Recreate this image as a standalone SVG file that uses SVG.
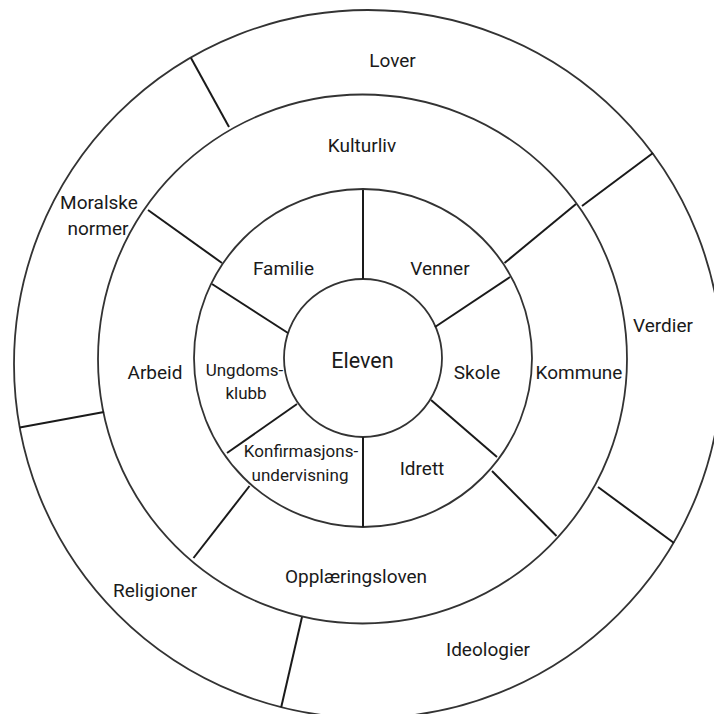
<svg xmlns="http://www.w3.org/2000/svg" width="714" height="714" viewBox="0 0 714 714">
<style>
.ring{fill:none;stroke:#333;stroke-width:1.8}
.div{stroke:#1a1a1a;stroke-width:2;fill:none}
text{font-family:Roboto,"Liberation Sans",sans-serif;fill:#1a1a1a;text-anchor:middle}
.t{font-size:19px}
.s{font-size:17px}
.c{font-size:21.5px}
</style>
<rect width="714" height="714" fill="#fff"/>
<g id="rings">
<circle class="ring" cx="368" cy="364" r="354"/>
<circle class="ring" cx="362.5" cy="359" r="264.5"/>
<circle class="ring" cx="363" cy="358" r="169"/>
<circle class="ring" cx="363" cy="358" r="79"/>
</g>
<g id="connectors">
<line class="div" x1="363" y1="279" x2="363" y2="190"/>
<line class="div" x1="363" y1="437" x2="363" y2="527"/>
<line class="div" x1="288" y1="333" x2="212" y2="284"/>
<line class="div" x1="435" y1="327" x2="510" y2="277"/>
<line class="div" x1="297" y1="404" x2="227" y2="453"/>
<line class="div" x1="431" y1="400" x2="497" y2="457"/>
<line class="div" x1="148" y1="210" x2="222" y2="263"/>
<line class="div" x1="576" y1="204" x2="504.5" y2="263"/>
<line class="div" x1="249.5" y1="486" x2="193.5" y2="558"/>
<line class="div" x1="492" y1="471" x2="556.5" y2="536"/>
<line class="div" x1="191" y1="58" x2="229" y2="127"/>
<line class="div" x1="653" y1="153" x2="582" y2="206"/>
<line class="div" x1="19.7" y1="427.5" x2="104" y2="412"/>
<line class="div" x1="598" y1="487" x2="674" y2="543"/>
<line class="div" x1="302" y1="617" x2="281.2" y2="707.3"/>
</g>
<g id="eleven"><text class="c" x="362.5" y="367.5">Eleven</text></g>
<g id="familie"><text class="t" x="283.5" y="275">Familie</text></g>
<g id="venner"><text class="t" x="440" y="275">Venner</text></g>
<g id="skole"><text class="t" x="477" y="379">Skole</text></g>
<g id="idrett"><text class="t" x="422" y="475">Idrett</text></g>
<g id="konfirmasjon"><text class="s" x="301" y="456.5">Konfirmasjons-</text><text class="s" x="300" y="481">undervisning</text></g>
<g id="ungdomsklubb"><text class="s" x="244.5" y="375.5">Ungdoms-</text><text class="s" x="246" y="399">klubb</text></g>
<g id="kulturliv"><text class="t" x="362" y="151.5">Kulturliv</text></g>
<g id="kommune"><text class="t" x="579" y="379">Kommune</text></g>
<g id="opplaeringsloven"><text class="t" x="356" y="583">Opplæringsloven</text></g>
<g id="arbeid"><text class="t" x="155" y="379">Arbeid</text></g>
<g id="lover"><text class="t" x="392.5" y="67">Lover</text></g>
<g id="verdier"><text class="t" x="663" y="331.5">Verdier</text></g>
<g id="ideologier"><text class="t" x="488" y="655.5">Ideologier</text></g>
<g id="religioner"><text class="t" x="155" y="596.5">Religioner</text></g>
<g id="moralske-normer"><text class="t" x="99" y="208.5">Moralske</text><text class="t" x="98" y="234.5">normer</text></g>
</svg>
